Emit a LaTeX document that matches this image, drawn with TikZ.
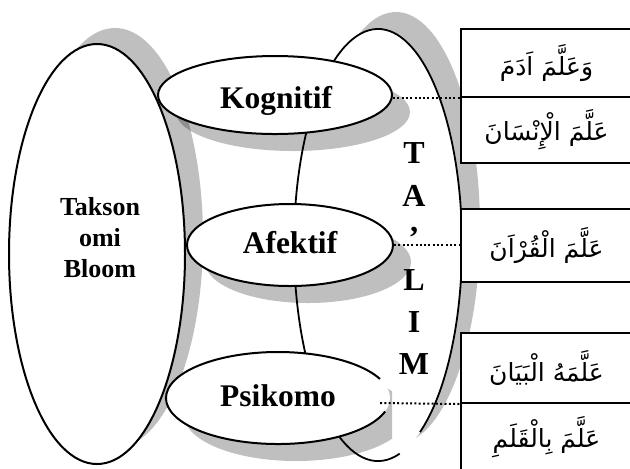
\documentclass[tikz,border=0pt]{standalone}
\usepackage{fontspec}
\setmainfont{Liberation Serif}
\newfontfamily\arabicfont[Script=Arabic]{DejaVu Sans}
\TeXXeTstate=1
\usetikzlibrary{shapes.geometric}

\tikzset{
  shade/.style={fill=black, fill opacity=0.25, draw=none},
  blob/.style={ellipse, draw=black, line width=1pt, fill=white, inner sep=0pt},
  blank/.style={ellipse, draw=none, fill=white, inner sep=0pt},
  outline/.style={draw=black, line width=0.9pt},
  lbl/.style={font=\fontsize{15.75}{18}\selectfont\bfseries, anchor=base, inner sep=0pt},
  letter/.style={font=\fontsize{16}{19}\selectfont\bfseries, anchor=base, inner sep=0pt},
  cell/.style={rectangle, draw=black, line width=1pt, fill=white, inner sep=0pt,
               minimum width=85.5pt, font=\arabicfont\fontsize{12.5}{15}\selectfont},
  dotline/.style={line width=1pt, dash pattern=on 1pt off 1.15pt},
}

\begin{document}
\begin{tikzpicture}[x=0.5pt, y=-0.5pt]
\useasboundingbox (0,0) rectangle (630,468);

% centres of the ellipses
\coordinate (bloomc) at (97,254);
\coordinate (talimc) at (378,245);
\coordinate (kogc) at (275,95);
\coordinate (afkc) at (290,245);
\coordinate (psic) at (278,398);

% shadow and body of the Ta'lim ellipse
\fill[shade] ([shift={(18,-17)}]talimc) ellipse [x radius=84, y radius=216];
\node[blank, minimum width=84pt, minimum height=216pt] (talim) at (talimc) {};

% shadows of the other ellipses
\fill[shade] ([shift={(18,-16)}]bloomc) ellipse [x radius=88, y radius=210];
\fill[shade] ([shift={(18,17)}]kogc) ellipse [x radius=117, y radius=39];
\fill[shade] ([shift={(18,17)}]afkc) ellipse [x radius=103, y radius=41];
\begin{scope}
  \clip (0,0) rectangle (392,468);
  \fill[shade] ([shift={(18,17)}]psic) ellipse [x radius=112, y radius=46];
\end{scope}

% outline of the Ta'lim ellipse, open at the lower right
\draw[outline] (talim.center) ++(75:84 and 216)
  arc[start angle=75, end angle=420, x radius=84, y radius=216];

% Bloom's taxonomy and its three domains
\node[blob, minimum width=88pt, minimum height=210pt] (bloom) at (bloomc) {};
\node[blob, minimum width=117pt, minimum height=39pt] (kog) at (kogc) {};
\node[blob, minimum width=103pt, minimum height=41pt] (afk) at (afkc) {};
\node[blank, minimum width=112pt, minimum height=46pt] (psi) at (psic) {};
\draw[outline, line width=1pt] (psi.center) ++(17:112 and 46)
  arc[start angle=17, end angle=335.5, x radius=112, y radius=46];

\node[font=\fontsize{13}{15.5}\selectfont\bfseries, align=center, inner sep=0pt]
  (bloomtxt) at (100,238) {Takson\\omi\\Bloom};
\node[lbl] (kogtxt) at (276,108) {Kognitif};
\node[lbl] (afktxt) at (290,253) {Afektif};
\node[lbl] (psitxt) at (278,406) {Psikomo};

% the word TA'LIM, one letter per line
\node[letter] (l1) at (414,163) {T};
\node[letter] (l2) at (414,206) {A};
\node[letter] (l3) at (414,248) {’};
\node[letter] (l4) at (414,290) {L};
\node[letter] (l5) at (414,332) {I};
\node[letter] (l6) at (414,374) {M};

% Qur'anic phrases
\node[cell, minimum height=34pt]   (r1) at (546.5,63)    {\beginR وَعَلَّمَ اَدَمَ\endR};
\node[cell, minimum height=33pt]   (r2) at (546.5,130)   {\beginR عَلَّمَ الْإِنْسَانَ\endR};
\node[cell, minimum height=36.5pt] (r3) at (546.5,245.5) {\beginR عَلَّمَ الْقُرْاَنَ\endR};
\node[cell, minimum height=35pt]   (r4) at (546.5,368)   {\beginR عَلَّمَهُ الْبَيَانَ\endR};
\node[cell, minimum height=34.5pt] (r5) at (546.5,437.5) {\beginR عَلَّمَ بِالْقَلَمِ\endR};

% dotted links from the domains to the phrases
\coordinate (psidot) at (380,403);
\draw[dotline] (kog.east |- r1.south) -- (r1.south west);
\draw[dotline] (afk.east) -- (afk.east -| r3.west);
\draw[dotline] (psidot) -- (r4.south west);
\end{tikzpicture}
\end{document}
